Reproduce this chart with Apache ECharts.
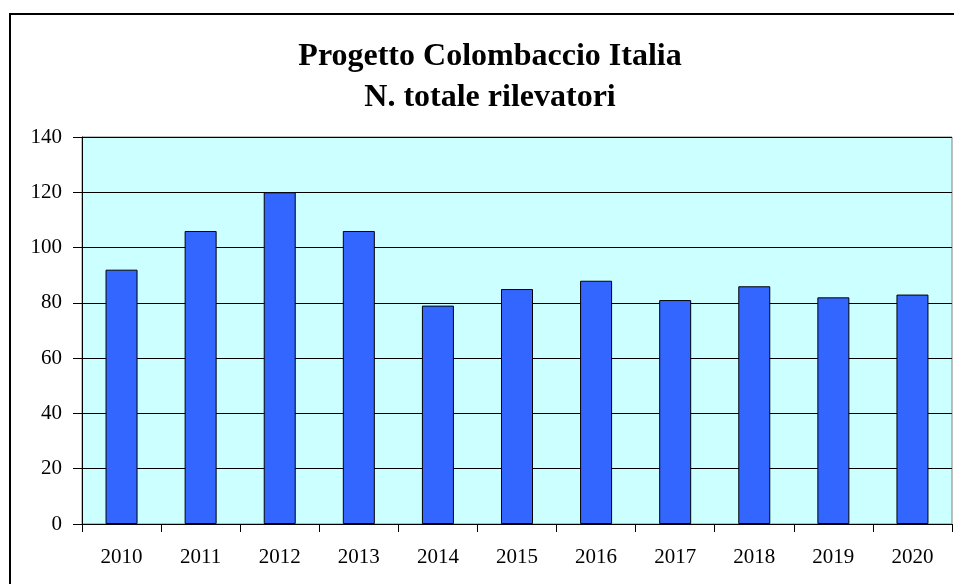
<!DOCTYPE html>
<html>
<head>
<meta charset="utf-8">
<script src="https://cdn.jsdelivr.net/npm/echarts@6/dist/echarts.min.js"></script>
<style>
html, body { margin: 0; padding: 0; background: #fff; }
#chart { width: 954px; height: 584px; }
</style>
</head>
<body>
<div id="chart"></div>
<script>
var years = ['2010', '2011', '2012', '2013', '2014', '2015', '2016', '2017', '2018', '2019', '2020'];
var rilevatori = [92, 106, 120, 106, 79, 85, 88, 81, 86, 82, 83];
var titleLines = ['Progetto Colombaccio Italia', 'N. totale rilevatori'];

var serif = '"Liberation Serif", "DejaVu Serif", serif';
var dom = document.getElementById('chart');
var myChart = echarts.init(dom);

// titolo centrato sull'area del grafico (che esce a destra dall'immagine)
var titleGraphics = titleLines.map(function(line, i) {
    return {
        type: 'text',
        x: 490,
        y: 57 + i * 41,
        style: {
            text: line,
            textAlign: 'center',
            textVerticalAlign: 'middle',
            font: 'bold 32px ' + serif,
            fill: '#000'
        }
    };
});

var option = {
    backgroundColor: '#fff',
    animation: false,
    graphic: [{
        type: 'rect',
        shape: { x: 10, y: 14, width: 1000, height: 700 },
        style: { fill: 'none', stroke: '#000', lineWidth: 2 },
        z: 0
    }].concat(titleGraphics),
    grid: {
        left: 82,
        right: 2,
        top: 137,
        bottom: 60,
        show: true,
        backgroundColor: '#CCFFFF',
        borderColor: '#808080',
        borderWidth: 1
    },
    xAxis: {
        type: 'category',
        data: years,
        axisLine: { lineStyle: { color: '#000', width: 1 } },
        axisTick: { show: true, length: 8, interval: 0, lineStyle: { color: '#000' } },
        axisLabel: {
            margin: 23,
            fontFamily: serif,
            fontSize: 21,
            color: '#000',
            interval: 0
        }
    },
    yAxis: {
        type: 'value',
        min: 0,
        max: 140,
        interval: 20,
        axisLine: { show: true, lineStyle: { color: '#000', width: 1 } },
        axisTick: { show: true, length: 9, lineStyle: { color: '#000' } },
        axisLabel: {
            margin: 20,
            fontFamily: serif,
            fontSize: 21,
            color: '#000'
        },
        splitLine: { lineStyle: { color: '#000', width: 1 } }
    },
    series: [{
        type: 'bar',
        data: rilevatori,
        barWidth: 32,
        itemStyle: {
            color: '#3366FF',
            borderColor: '#000',
            borderWidth: 1
        }
    }]
};
myChart.setOption(option, true);
</script>
</body>
</html>
